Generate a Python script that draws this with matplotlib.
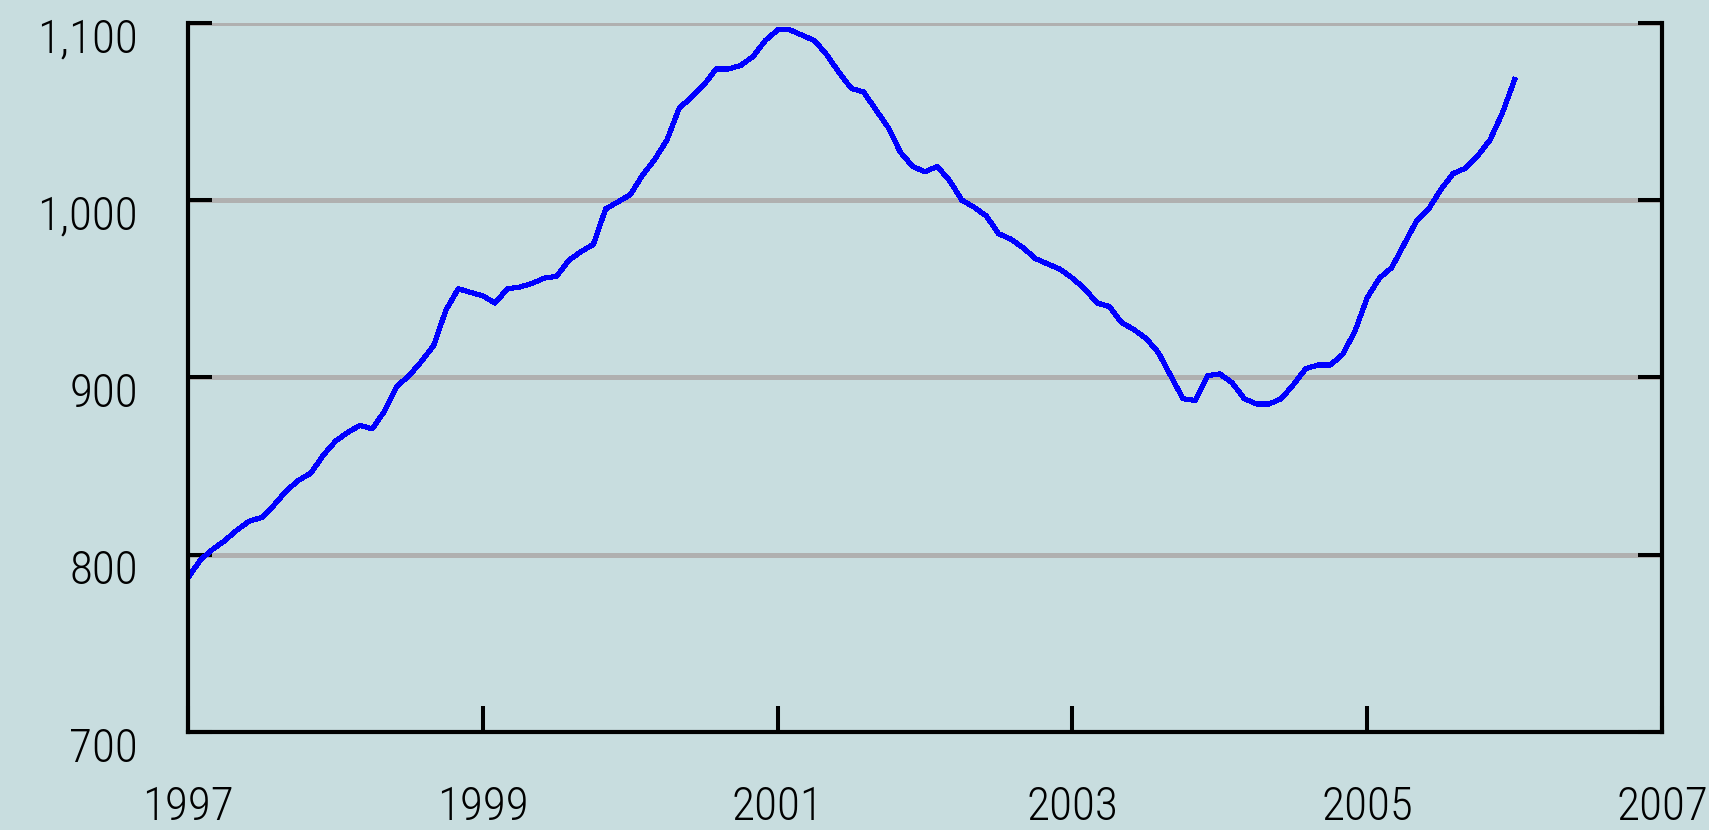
import numpy as np
import matplotlib
matplotlib.use("Agg")
import matplotlib.pyplot as plt
import matplotlib.transforms as mtransforms
from matplotlib import font_manager

# monthly values, Jan 1997 .. Jan 2006
start_year = 1997
values = [
    787, 797, 803, 808, 814, 819, 821, 828, 836, 842, 846, 856,          # 1997
    864, 869, 873, 871, 881, 895, 901, 909, 918, 938, 950, 948,          # 1998
    946, 942, 950, 951, 953, 956, 957, 966, 971, 975, 995, 999,          # 1999
    1003, 1014, 1023, 1034, 1052, 1058, 1065, 1074, 1074, 1076, 1081, 1090,  # 2000
    1096, 1096, 1093, 1090, 1082, 1072, 1063, 1061, 1051, 1041, 1027, 1019,  # 2001
    1016, 1019, 1011, 1000, 996, 991, 981, 978, 973, 967, 964, 961,      # 2002
    956, 950, 942, 940, 931, 927, 922, 914, 901, 888, 887, 901,          # 2003
    902, 897, 888, 885, 885, 888, 896, 905, 907, 907, 913, 926,          # 2004
    945, 956, 962, 975, 988, 995, 1006, 1015, 1018, 1025, 1034, 1049,    # 2005
    1068,                                                                # 2006
]
x_ticks = [1997, 1999, 2001, 2003, 2005, 2007]
y_ticks = [700, 800, 900, 1000, 1100]

BG = "#c8dddf"

# narrow font if there is one, else Liberation Sans a bit smaller
names = {f.name for f in font_manager.fontManager.ttflist}
family, fsize = "Liberation Sans", 30
for name, size in [("Liberation Sans Narrow", 38), ("Roboto Condensed", 34), ("Arial Narrow", 38)]:
    if name in names:
        family, fsize = name, size
        break

t = start_year + np.arange(len(values)) / 12.0

fig = plt.figure(figsize=(17.09, 8.30), dpi=100, facecolor=BG)
ax = fig.add_axes([0.110, 0.118, 0.8625, 0.8545], facecolor=BG)

ax.plot(t, values, color="#0000ff", lw=3.0, antialiased=False, zorder=3)

ax.set_xlim(1997, 2007)
ax.set_ylim(700, 1100)
ax.set_xticks(x_ticks)
ax.set_yticks(y_ticks)
ax.set_yticklabels([f"{v:,}" for v in y_ticks])

ax.grid(axis="y", color="#b0b0b0", lw=3.6, zorder=1)
ax.spines["top"].set_visible(False)
for s in ["left", "bottom", "right"]:
    ax.spines[s].set_linewidth(3.0)
    ax.spines[s].set_color("black")
    ax.spines[s].set_zorder(4)

ax.tick_params(axis="y", direction="in", length=17, width=2.9, left=True, right=True,
               pad=36, labelsize=fsize)
ax.tick_params(axis="x", direction="in", length=19, width=2.9, top=False,
               pad=38, labelsize=fsize)
for lab in ax.get_xticklabels() + ax.get_yticklabels():
    lab.set_fontfamily(family)
    lab.set_fontweight("light")

# labels sit a bit below their ticks
offset = mtransforms.ScaledTranslation(0, -12 / 100, fig.dpi_scale_trans)
for lab in ax.get_yticklabels():
    lab.set_transform(lab.get_transform() + offset)

fig.savefig("out.png", dpi=100, facecolor=BG)
